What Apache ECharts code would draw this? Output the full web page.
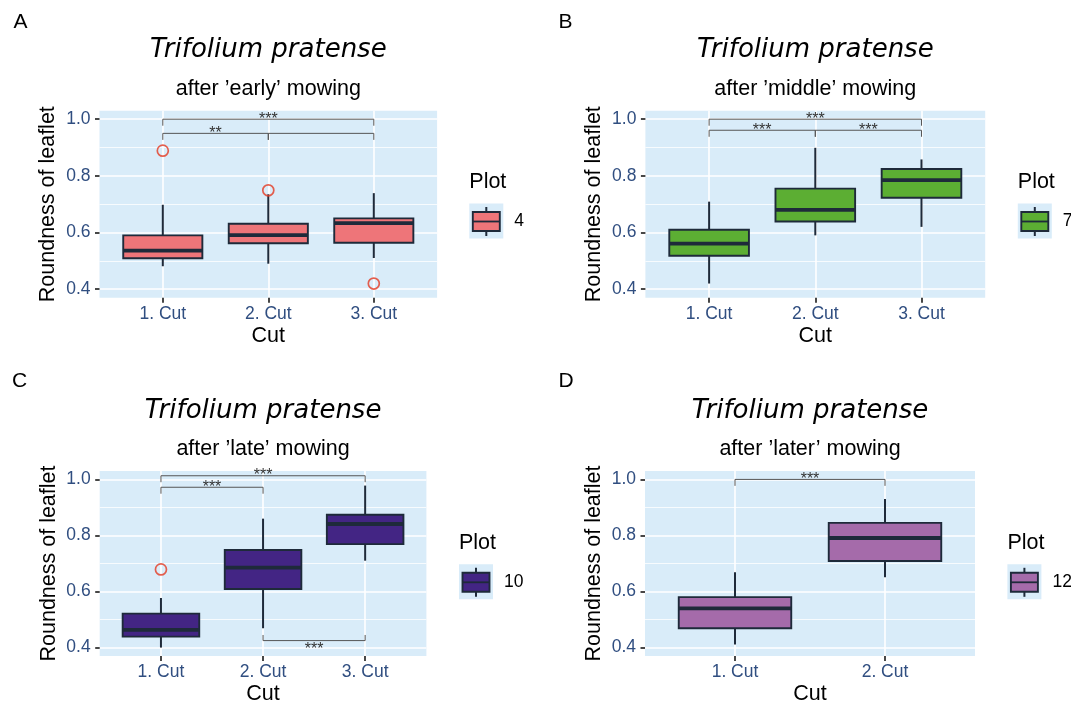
<!DOCTYPE html>
<html>
<head>
<meta charset="utf-8">
<script src="https://cdn.jsdelivr.net/npm/echarts@6/dist/echarts.min.js"></script>
<style>html,body{margin:0;padding:0;background:#fff}#c{width:1071px;height:706px}</style>
</head>
<body>
<div id="c"></div>
<script>
// ---------- data ----------
const cuts3 = ['1. Cut', '2. Cut', '3. Cut'];
const cuts2 = ['1. Cut', '2. Cut'];
const yTicks = [0.4, 0.6, 0.8, 1.0];
const yMinorTicks = [0.5, 0.7, 0.9];
const panelLetters = ['A', 'B', 'C', 'D'];
const mowing = ['early', 'middle', 'late', 'later'];
const plotIds = ['4', '7', '10', '12'];
// each box: [lower whisker, Q1, median, Q3, upper whisker]
const boxA = [[0.481, 0.509, 0.536, 0.590, 0.698], [0.490, 0.562, 0.591, 0.631, 0.735], [0.510, 0.564, 0.633, 0.650, 0.739]];
const boxB = [[0.420, 0.518, 0.561, 0.610, 0.709], [0.590, 0.639, 0.680, 0.755, 0.899], [0.620, 0.723, 0.785, 0.824, 0.858]];
const boxC = [[0.400, 0.439, 0.463, 0.521, 0.577], [0.469, 0.609, 0.685, 0.748, 0.860], [0.710, 0.769, 0.841, 0.874, 0.978]];
const boxD = [[0.411, 0.469, 0.540, 0.580, 0.669], [0.651, 0.709, 0.791, 0.845, 0.930]];
// outliers: [cut index (1-based), value]
const outA = [[1, 0.889], [2, 0.749], [3, 0.420]];
const outB = [];
const outC = [[1, 0.679]];
const outD = [];
// significance brackets: [from cut, to cut, y, label, side]
const sigA = [[1, 3, 1.0, '***', 'top'], [1, 2, 0.95, '**', 'top'], [2, 3, 0.95, '', 'top']];
const sigB = [[1, 3, 1.0, '***', 'top'], [1, 2, 0.961, '***', 'top'], [2, 3, 0.961, '***', 'top']];
const sigC = [[1, 3, 1.013, '***', 'top'], [1, 2, 0.972, '***', 'top'], [2, 3, 0.425, '***', 'bottom']];
const sigD = [[1, 2, 1.0, '***', 'top']];
const fillColors = ['#EE7579', '#5CAE33', '#432584', '#A56BAA'];

// ---------- layout / style ----------
const panels = [
  { cats: cuts3, box: boxA, out: outA, sig: sigA, grid: { left: 99.5, top: 110.7, width: 337.6, height: 187 }, legend: [469.3, 203.5], letter: [13.5, 22] },
  { cats: cuts3, box: boxB, out: outB, sig: sigB, grid: { left: 645.4, top: 110.7, width: 339.8, height: 187 }, legend: [1017.8, 203.5], letter: [558.5, 22] },
  { cats: cuts3, box: boxC, out: outC, sig: sigC, grid: { left: 99.7, top: 471, width: 326.7, height: 187.3 }, legend: [459, 564.3], letter: [12, 381] },
  { cats: cuts2, box: boxD, out: outD, sig: sigD, grid: { left: 645, top: 471, width: 330, height: 187.3 }, legend: [1007.4, 564.3], letter: [558.5, 381] }
];
const SANS = '"Liberation Sans", Arial, sans-serif';
const tickColor = '#304E80';
const edge = '#1E2A3A';
const bg = '#D9ECF9';
const Y_MIN = 0.37, Y_MAX = 1.03;

const grids = [], xAxes = [], yAxes = [], series = [], graphics = [];

panels.forEach((p, i) => {
  const n = p.cats.length;
  const catPos = p.cats.map((c, k) => k + 1);
  grids.push(Object.assign({ show: true, backgroundColor: bg, borderWidth: 0, containLabel: false }, p.grid));
  xAxes.push({
    type: 'value', gridIndex: i, min: 0.4, max: n + 0.6,
    axisLine: { show: false },
    axisTick: { show: true, length: 5, lineStyle: { color: '#333', width: 1.8 }, customValues: catPos },
    axisLabel: { customValues: catPos, formatter: v => p.cats[Math.round(v) - 1] || '', color: tickColor, fontSize: 17.5, fontFamily: SANS, margin: 7 },
    splitLine: { show: true, lineStyle: { color: '#ffffff', width: 1.6 } },
    minorSplitLine: { show: false },
    name: 'Cut', nameLocation: 'middle', nameGap: 27,
    nameTextStyle: { color: '#000', fontSize: 21.5, fontFamily: SANS }
  });
  const yMain = yAxes.length;
  yAxes.push({
    type: 'value', gridIndex: i, min: Y_MIN, max: Y_MAX, position: 'left',
    axisLine: { show: false },
    axisTick: { show: true, length: 4.5, lineStyle: { color: '#333', width: 1.8 }, customValues: yTicks },
    axisLabel: { customValues: yTicks, formatter: v => v.toFixed(1), color: tickColor, fontSize: 17.5, fontFamily: SANS, margin: 9 },
    splitLine: { show: true, lineStyle: { color: '#ffffff', width: 1.6 } },
    name: 'Roundness of leaflet', nameLocation: 'middle', nameGap: 40, nameRotate: 90,
    nameTextStyle: { color: '#000', fontSize: 21.5, fontFamily: SANS }
  });
  yAxes.push({
    type: 'value', gridIndex: i, min: Y_MIN, max: Y_MAX, position: 'left', offset: 0,
    axisLine: { show: false },
    axisTick: { show: false, customValues: yMinorTicks },
    axisLabel: { show: false, customValues: yMinorTicks },
    splitLine: { show: true, lineStyle: { color: '#ffffff', width: 0.8 } }
  });

  const fill = fillColors[i];
  series.push({
    type: 'custom', xAxisIndex: i, yAxisIndex: yMain, z: 3,
    data: p.box.map((b, k) => [k + 1].concat(b)),
    encode: { x: 0, y: [1, 2, 3, 4, 5] },
    renderItem: (params, api) => {
      const x = api.value(0);
      const lo = api.coord([x, api.value(1)]), q1 = api.coord([x - 0.375, api.value(2)]);
      const med = api.coord([x, api.value(3)]), q3 = api.coord([x + 0.375, api.value(4)]);
      const hi = api.coord([x, api.value(5)]);
      const cx = lo[0];
      return {
        type: 'group', children: [
          { type: 'line', shape: { x1: cx, y1: hi[1], x2: cx, y2: q3[1] }, style: { stroke: edge, lineWidth: 2 } },
          { type: 'line', shape: { x1: cx, y1: q1[1], x2: cx, y2: lo[1] }, style: { stroke: edge, lineWidth: 2 } },
          { type: 'rect', shape: { x: q1[0], y: q3[1], width: q3[0] - q1[0], height: q1[1] - q3[1] }, style: { fill: fill, stroke: edge, lineWidth: 1.9 } },
          { type: 'line', shape: { x1: q1[0], y1: med[1], x2: q3[0], y2: med[1] }, style: { stroke: edge, lineWidth: 3.8 } }
        ]
      };
    }
  });
  if (p.out.length) {
    series.push({
      type: 'scatter', xAxisIndex: i, yAxisIndex: yMain, z: 4, data: p.out,
      symbol: 'circle', symbolSize: 11,
      itemStyle: { color: 'rgba(0,0,0,0)', borderColor: '#E43A22', borderWidth: 1.7 }
    });
  }
  series.push({
    type: 'custom', xAxisIndex: i, yAxisIndex: yMain, z: 5, clip: false,
    data: p.sig,
    encode: { x: [0, 1], y: 2 },
    renderItem: (params, api) => {
      const d = p.sig[params.dataIndex];
      const a = api.coord([d[0], d[2]]), b = api.coord([d[1], d[2]]);
      const top = d[4] !== 'bottom';
      const tip = api.coord([d[0], d[2] + (top ? -0.023 : 0.02)])[1];
      const mid = (a[0] + b[0]) / 2;
      return {
        type: 'group', children: [
          { type: 'polyline', shape: { points: [[a[0], tip], [a[0], a[1]], [b[0], b[1]], [b[0], tip]] }, style: { stroke: '#555', lineWidth: 1, fill: null } },
          { type: 'text', x: mid, y: top ? a[1] : a[1] + 9, style: { text: d[3], fill: '#333', font: '16px ' + SANS, align: 'center', verticalAlign: 'middle' } }
        ]
      };
    }
  });

  // titles
  const cx = p.grid.left + p.grid.width / 2;
  const baseY = p.grid.top;
  graphics.push({ type: 'text', x: cx, y: baseY - 60, style: { text: 'Trifolium pratense', fill: '#000', font: 'italic 26px "DejaVu Sans", sans-serif', align: 'center', verticalAlign: 'middle' } });
  graphics.push({ type: 'text', x: cx, y: baseY - 21.5, style: { text: 'after \u2019' + mowing[i] + '\u2019 mowing', fill: '#000', font: '21.5px ' + SANS, align: 'center', verticalAlign: 'middle' } });
  graphics.push({ type: 'text', x: p.letter[0], y: p.letter[1], style: { text: panelLetters[i], fill: '#000', font: '21px ' + SANS, align: 'left', verticalAlign: 'middle' } });

  // legend
  const kx = p.legend[0], ky = p.legend[1];
  graphics.push({ type: 'text', x: kx, y: ky - 21, style: { text: 'Plot', fill: '#000', font: '21.5px ' + SANS, align: 'left', verticalAlign: 'middle' } });
  graphics.push({ type: 'rect', shape: { x: kx, y: ky, width: 34, height: 35 }, style: { fill: bg } });
  graphics.push({ type: 'line', shape: { x1: kx + 17, y1: ky + 3.5, x2: kx + 17, y2: ky + 32.5 }, style: { stroke: edge, lineWidth: 2 } });
  graphics.push({ type: 'rect', shape: { x: kx + 3.5, y: ky + 8.5, width: 27, height: 19 }, style: { fill: fill, stroke: edge, lineWidth: 1.9 } });
  graphics.push({ type: 'line', shape: { x1: kx + 3.5, y1: ky + 18, x2: kx + 30.5, y2: ky + 18 }, style: { stroke: edge, lineWidth: 1.8 } });
  graphics.push({ type: 'text', x: kx + 45, y: ky + 18, style: { text: plotIds[i], fill: '#000', font: '17.5px ' + SANS, align: 'left', verticalAlign: 'middle' } });
});

const chart = echarts.init(document.getElementById('c'), null, { renderer: 'canvas' });
chart.setOption({
  backgroundColor: '#ffffff',
  animation: false,
  grid: grids,
  xAxis: xAxes,
  yAxis: yAxes,
  series: series,
  graphic: { elements: graphics }
});
</script>
</body>
</html>
